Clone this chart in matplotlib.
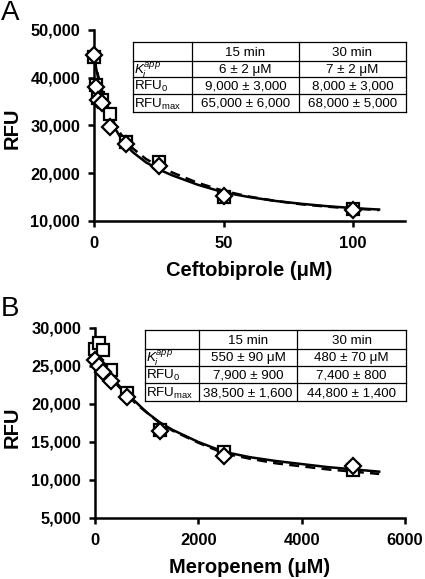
import matplotlib
matplotlib.use("Agg")
import matplotlib.pyplot as plt
from matplotlib.lines import Line2D

plt.rcParams['font.family'] = ['Liberation Sans', 'DejaVu Sans']
plt.rcParams['mathtext.fontset'] = 'custom'
plt.rcParams['mathtext.rm'] = 'Liberation Sans'
plt.rcParams['mathtext.it'] = 'Liberation Sans:italic'
plt.rcParams['mathtext.bf'] = 'Liberation Sans:bold'

# ---------------- Data: panel A (Ceftobiprole) ----------------
a_conc = [0, 0.78, 1.56, 3.125, 6.25, 12.5, 25, 50, 100]
a_15min = [44800, 38000, 35300, 34800, 29600, 26200, 21600, 15300, 12200]
a_30min = [44300, 38400, 35800, 35300, 32500, 26500, 22300, 15000, 12500]
a_fit_x = [0, 1, 2, 4, 6, 8, 10, 12.5, 15, 20, 25, 30, 40, 50, 60, 70, 80, 90, 100, 110]
a_fit_solid = [44500, 41500, 39000, 34800, 31800, 29500, 27700, 25800, 24400, 22300,
               20800, 19600, 17600, 16000, 15000, 14200, 13600, 13100, 12700, 12400]
a_fit_dash = [44500, 41800, 39500, 35500, 32500, 30300, 28500, 26600, 25200, 23000,
              21500, 20200, 18000, 16300, 15100, 14200, 13500, 13000, 12600, 12300]
a_yticks = [10000, 20000, 30000, 40000, 50000]
a_xticks = [0, 50, 100]

# ---------------- Data: panel B (Meropenem) ----------------
b_conc = [0, 78, 156, 312.5, 625, 1250, 2500, 5000]
b_15min = [25800, 25000, 24200, 23000, 20900, 16400, 13200, 11900]
b_30min = [27300, 28000, 27100, 24500, 21400, 16600, 13700, 11300]
b_fit_x = [0, 100, 200, 400, 600, 800, 1000, 1250, 1500, 2000, 2500, 3000, 3500,
           4000, 4500, 5000, 5500]
b_fit_solid = [25700, 25000, 24300, 22900, 21400, 20200, 18900, 17600, 16600, 15000,
               13700, 13000, 12500, 12100, 11700, 11400, 11100]
b_fit_dash = [25700, 24900, 24100, 22700, 21300, 20000, 18900, 17500, 16500, 14900,
              13500, 12800, 12200, 11800, 11400, 11100, 10800]
b_yticks = [5000, 10000, 15000, 20000, 25000, 30000]
b_xticks = [0, 2000, 4000, 6000]

# ---------------- Table contents ----------------
table_cols = ["", "15 min", "30 min"]
table_rows = [r"$K_i^{app}$", r"RFU$_0$", r"RFU$_{\mathrm{max}}$"]
a_table = [["6 ± 2 μM", "7 ± 2 μM"],
           ["9,000 ± 3,000", "8,000 ± 3,000"],
           ["65,000 ± 6,000", "68,000 ± 5,000"]]
b_table = [["550 ± 90 μM", "480 ± 70 μM"],
           ["7,900 ± 900", "7,400 ± 800"],
           ["38,500 ± 1,600", "44,800 ± 1,400"]]

W, H = 425, 579
fig = plt.figure(figsize=(W / 100, H / 100), dpi=100)


def fx(px):
    return px / W


def fy(py):
    return 1 - py / H


def style_axes(ax, xlim, ylim, xticks, yticks, xfmt):
    ax.set_xlim(*xlim)
    ax.set_ylim(*ylim)
    for s in ['top', 'right']:
        ax.spines[s].set_visible(False)
    for s in ['left', 'bottom']:
        ax.spines[s].set_linewidth(1.8)
    ax.set_xticks(xticks)
    ax.set_yticks(yticks)
    ax.set_xticklabels([xfmt(v) for v in xticks], fontweight='bold', fontsize=12)
    ax.set_yticklabels([f"{v:,}" for v in yticks], fontweight='bold', fontsize=11.8)
    ax.tick_params(direction='out', length=4, width=1.8)
    ax.tick_params(axis='y', pad=6)
    ax.tick_params(axis='x', pad=7)


def plot_panel(ax, conc, s15, s30, fx_, fsol, fdash):
    ax.plot(fx_, fsol, '-', color='black', lw=1.8, zorder=2)
    ax.plot(fx_, fdash, '--', color='black', lw=1.8, dashes=(4, 2.5), zorder=2)
    ax.plot(conc, s30, 's', ms=8.5, mfc='white', mec='black', mew=1.6, ls='none',
            zorder=3, clip_on=False)
    ax.plot(conc, s15, 'D', ms=8, mfc='white', mec='black', mew=1.6, ls='none',
            zorder=4, clip_on=False)


def draw_table(x_edges, y_edges, values):
    lw = 0.9
    for y in y_edges:
        fig.add_artist(Line2D([fx(x_edges[0]), fx(x_edges[-1])], [fy(y), fy(y)],
                              color='black', lw=lw))
    for x in x_edges:
        fig.add_artist(Line2D([fx(x), fx(x)], [fy(y_edges[0]), fy(y_edges[-1])],
                              color='black', lw=lw))
    fs = 9.6
    for j, c in enumerate(table_cols):
        if c:
            fig.text(fx((x_edges[j] + x_edges[j + 1]) / 2), fy((y_edges[0] + y_edges[1]) / 2 + 1),
                     c, ha='center', va='center', fontsize=fs)
    for i, r in enumerate(table_rows):
        yc = (y_edges[i + 1] + y_edges[i + 2]) / 2 + 1
        fig.text(fx(x_edges[0] + 1.5), fy(yc), r, ha='left', va='center', fontsize=fs)
        for j in range(2):
            fig.text(fx((x_edges[j + 1] + x_edges[j + 2]) / 2), fy(yc), values[i][j],
                     ha='center', va='center', fontsize=fs)


# Panel A
axA = fig.add_axes([fx(94), fy(221), fx(405) - fx(94), fy(30) - fy(221)])
plot_panel(axA, a_conc, a_15min, a_30min, a_fit_x, a_fit_solid, a_fit_dash)
style_axes(axA, (0, 120), (10000, 50000), a_xticks, a_yticks, lambda v: f"{v:g}")
axA.set_xlabel("Ceftobiprole (μM)", fontweight='bold', fontsize=14.5, labelpad=7)
fig.text(fx(12), fy(128), "RFU", rotation=90, fontweight='bold', fontsize=14.5,
         ha='center', va='center')
fig.text(fx(1), fy(13), "A", fontsize=20, ha='left', va='center')
draw_table([133, 192, 299, 406], [42, 61, 77, 94, 112], a_table)

# Panel B
axB = fig.add_axes([fx(95), fy(518), fx(405) - fx(95), fy(328) - fy(518)])
plot_panel(axB, b_conc, b_15min, b_30min, b_fit_x, b_fit_solid, b_fit_dash)
style_axes(axB, (0, 6000), (5000, 30000), b_xticks, b_yticks, lambda v: f"{v:g}")
axB.set_xlabel("Meropenem (μM)", fontweight='bold', fontsize=14.5, labelpad=7)
fig.text(fx(12), fy(427), "RFU", rotation=90, fontweight='bold', fontsize=14.5,
         ha='center', va='center')
fig.text(fx(1), fy(309), "B", fontsize=20, ha='left', va='center')
draw_table([145, 199, 297, 406], [330, 349, 366, 383, 401], b_table)

fig.savefig("out.png", dpi=100)
